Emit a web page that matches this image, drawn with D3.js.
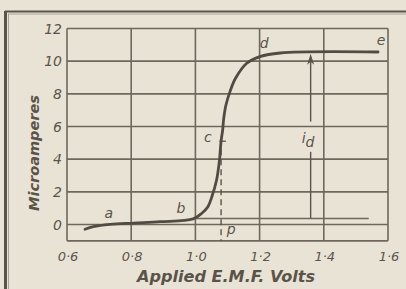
<!DOCTYPE html>
<html>
<head>
<meta charset="utf-8">
<script src="https://cdn.jsdelivr.net/npm/d3@7"></script>
<style>
  html, body { margin: 0; padding: 0; background: #e9e3d6; }
  svg { display: block; }
</style>
</head>
<body>
<svg id="chart" width="406" height="289"></svg>
<script>
// characteristic curve
var volts = [0.656, 0.682, 0.734, 0.807, 0.890, 0.993, 1.020, 1.039, 1.051, 1.066,
             1.075, 1.080, 1.085, 1.088, 1.095, 1.108, 1.125, 1.160, 1.201, 1.264, 1.569];
var microamps = [-0.29, -0.13, 0.01, 0.09, 0.17, 0.34, 0.69, 1.09, 1.68, 2.72,
                 3.95, 5.11, 5.79, 6.45, 7.3, 8.15, 8.95, 9.87, 10.28, 10.50, 10.56];

var xTicks = [0.6, 0.8, 1.0, 1.2, 1.4, 1.6];
var xTickLabels = ["0·6", "0·8", "1·0", "1·2", "1·4", "1·6"];
var yTicks = [0, 2, 4, 6, 8, 10, 12];

// lettered points on the curve: [volts, microamps] of the letter baseline
var pointNames = ["a", "b", "c", "d", "e"];
var pointAt = [[0.73, 0.4], [0.955, 0.7], [1.039, 5.05], [1.214, 10.8], [1.578, 11.0]];

var baseLevel = 0.37;        // extension of the slow rise
var baseFrom = 1.0, baseTo = 1.54;
var pVolts = 1.08;           // dashed line through c
var pTop = 4.6;
var idVolts = 1.359;         // arrow i_d
var idTop = 10.45;

var ink = "#5a534a";
var gridInk = "#6f675c";

var svg = d3.select("#chart");

var x = d3.scaleLinear().domain([0.6, 1.6]).range([67, 388]);
var y = d3.scaleLinear().domain([0, 12]).range([224.5, 28.5]);

//outer frame of the page (double rule)
svg.append("line").attr("x1", 5).attr("y1", 11.5).attr("x2", 406).attr("y2", 11.5)
	.attr("stroke", ink).attr("stroke-width", 2.2);
svg.append("line").attr("x1", 8).attr("y1", 14).attr("x2", 406).attr("y2", 14)
	.attr("stroke", "#9a9286").attr("stroke-width", 0.8);
svg.append("line").attr("x1", 5.5).attr("y1", 11).attr("x2", 5.5).attr("y2", 289)
	.attr("stroke", ink).attr("stroke-width", 3);
svg.append("line").attr("x1", 8.5).attr("y1", 14).attr("x2", 8.5).attr("y2", 289)
	.attr("stroke", "#9a9286").attr("stroke-width", 0.8);

var g = svg.append("g");

//grid
g.selectAll(".vgrid").data(xTicks).enter().append("line")
	.attr("x1", function(d) { return x(d); })
	.attr("x2", function(d) { return x(d); })
	.attr("y1", y(12)).attr("y2", y(-1))
	.attr("stroke", gridInk).attr("stroke-width", 1.6);

g.selectAll(".hgrid").data(yTicks.concat([-1])).enter().append("line")
	.attr("x1", x(0.6)).attr("x2", x(1.6))
	.attr("y1", function(d) { return y(d); })
	.attr("y2", function(d) { return y(d); })
	.attr("stroke", gridInk).attr("stroke-width", 1.6);

//tick labels
g.selectAll(".ylab").data(yTicks).enter().append("text")
	.attr("x", 62)
	.attr("y", function(d) { return y(d) + 5; })
	.attr("text-anchor", "end")
	.attr("font-family", "DejaVu Sans")
	.attr("font-style", "italic")
	.attr("font-size", "14px")
	.attr("fill", ink)
	.text(function(d) { return d; });

g.selectAll(".xlab").data(xTicks).enter().append("text")
	.attr("x", function(d) { return Math.min(x(d) + 1, 392); })
	.attr("y", 261)
	.attr("text-anchor", "middle")
	.attr("font-family", "DejaVu Sans")
	.attr("font-style", "italic")
	.attr("font-size", "13px")
	.attr("fill", ink)
	.text(function(d, i) { return xTickLabels[i]; });

//axis titles
g.append("text")
	.attr("x", 226).attr("y", 282)
	.attr("text-anchor", "middle")
	.attr("font-family", "DejaVu Sans")
	.attr("font-style", "italic")
	.attr("font-weight", "bold")
	.attr("font-size", "15px")
	.attr("textLength", 178)
	.attr("lengthAdjust", "spacingAndGlyphs")
	.attr("fill", ink)
	.text("Applied E.M.F. Volts");

g.append("text")
	.attr("transform", "translate(39,153) rotate(-90)")
	.attr("text-anchor", "middle")
	.attr("font-family", "DejaVu Sans")
	.attr("font-style", "italic")
	.attr("font-weight", "bold")
	.attr("font-size", "14px")
	.attr("textLength", 116)
	.attr("lengthAdjust", "spacingAndGlyphs")
	.attr("fill", ink)
	.text("Microamperes");

//baseline continuation of the low current
g.append("line")
	.attr("x1", x(baseFrom)).attr("x2", x(baseTo))
	.attr("y1", y(baseLevel)).attr("y2", y(baseLevel))
	.attr("stroke", gridInk).attr("stroke-width", 1.4);

//dashed line c - p
g.append("line")
	.attr("x1", x(pVolts)).attr("x2", x(pVolts))
	.attr("y1", y(pTop)).attr("y2", y(-1))
	.attr("stroke", ink).attr("stroke-width", 1.4)
	.attr("stroke-dasharray", "6,4");

//i_d arrow, broken around its label
g.append("line")
	.attr("x1", x(idVolts)).attr("x2", x(idVolts))
	.attr("y1", y(idTop) + 6).attr("y2", y(6.3))
	.attr("stroke", ink).attr("stroke-width", 1.4);
g.append("line")
	.attr("x1", x(idVolts)).attr("x2", x(idVolts))
	.attr("y1", y(4.45)).attr("y2", y(baseLevel))
	.attr("stroke", ink).attr("stroke-width", 1.4);
g.append("path")
	.attr("d", "M" + x(idVolts) + "," + y(idTop) +
		"L" + (x(idVolts) - 3.5) + "," + (y(idTop) + 11) +
		"L" + x(idVolts) + "," + (y(idTop) + 8) +
		"L" + (x(idVolts) + 3.5) + "," + (y(idTop) + 11) + "Z")
	.attr("fill", ink);

var idLab = g.append("text")
	.attr("x", x(idVolts) - 9).attr("y", y(5.2) + 3)
	.attr("font-family", "DejaVu Sans")
	.attr("font-style", "italic")
	.attr("font-size", "14px")
	.attr("fill", ink);
idLab.append("tspan").text("i");
idLab.append("tspan").attr("dy", 4).text("d");

//c tick across the curve
g.append("line")
	.attr("x1", x(1.075)).attr("x2", x(1.095))
	.attr("y1", y(5.1)).attr("y2", y(5.1))
	.attr("stroke", ink).attr("stroke-width", 1.3);

//the curve
var line = d3.line()
	.curve(d3.curveCatmullRom.alpha(0.5))
	.x(function(d) { return x(d[0]); })
	.y(function(d) { return y(d[1]); });

g.append("path")
	.datum(volts.map(function(v, i) { return [v, microamps[i]]; }))
	.attr("d", line)
	.attr("fill", "none")
	.attr("stroke", "#524b43")
	.attr("stroke-width", 2.8)
	.attr("stroke-linecap", "round");

//letters
g.selectAll(".pname").data(pointNames).enter().append("text")
	.attr("x", function(d, i) { return x(pointAt[i][0]); })
	.attr("y", function(d, i) { return y(pointAt[i][1]); })
	.attr("text-anchor", "middle")
	.attr("font-family", "DejaVu Sans")
	.attr("font-style", "italic")
	.attr("font-size", "14px")
	.attr("fill", ink)
	.text(function(d) { return d; });

g.append("text")
	.attr("x", x(pVolts) + 10).attr("y", y(-0.6))
	.attr("text-anchor", "middle")
	.attr("font-family", "DejaVu Sans")
	.attr("font-style", "italic")
	.attr("font-size", "14px")
	.attr("fill", ink)
	.text("p");
</script>
</body>
</html>
